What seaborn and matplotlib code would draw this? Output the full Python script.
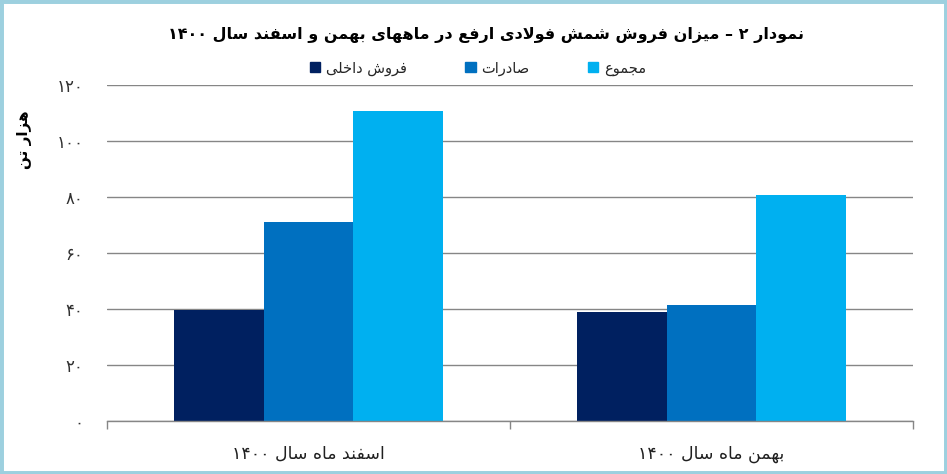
import re
import matplotlib
matplotlib.use("Agg")
import matplotlib.pyplot as plt
import seaborn as sns
import pandas as pd
from matplotlib.patches import Patch, Rectangle

months = ["اسفند ماه سال ۱۴۰۰", "بهمن ماه سال ۱۴۰۰"]
series = ["فروش داخلی", "صادرات", "مجموع"]
domestic = [39.5, 39.1]
exports = [71.2, 41.5]
total = [110.8, 80.8]
yticks = [0, 20, 40, 60, 80, 100, 120]
title = "نمودار ۲ – میزان فروش شمش فولادی ارفع در ماههای بهمن و اسفند سال ۱۴۰۰"
ylabel = "هزار تن"
colors = ["#002060", "#0070C0", "#00B0F0"]

# matplotlib has no arabic joining / rtl, so shape by hand
# letter: (isolated, final, initial, medial)
FORMS = {
    "ا": (0xFE8D, 0xFE8E, None, None),
    "ب": (0xFE8F, 0xFE90, 0xFE91, 0xFE92),
    "ت": (0xFE95, 0xFE96, 0xFE97, 0xFE98),
    "ج": (0xFE9D, 0xFE9E, 0xFE9F, 0xFEA0),
    "خ": (0xFEA5, 0xFEA6, 0xFEA7, 0xFEA8),
    "د": (0xFEA9, 0xFEAA, None, None),
    "ر": (0xFEAD, 0xFEAE, None, None),
    "ز": (0xFEAF, 0xFEB0, None, None),
    "س": (0xFEB1, 0xFEB2, 0xFEB3, 0xFEB4),
    "ش": (0xFEB5, 0xFEB6, 0xFEB7, 0xFEB8),
    "ص": (0xFEB9, 0xFEBA, 0xFEBB, 0xFEBC),
    "ع": (0xFEC9, 0xFECA, 0xFECB, 0xFECC),
    "ف": (0xFED1, 0xFED2, 0xFED3, 0xFED4),
    "ل": (0xFEDD, 0xFEDE, 0xFEDF, 0xFEE0),
    "م": (0xFEE1, 0xFEE2, 0xFEE3, 0xFEE4),
    "ن": (0xFEE5, 0xFEE6, 0xFEE7, 0xFEE8),
    "ه": (0xFEE9, 0xFEEA, 0xFEEB, 0xFEEC),
    "و": (0xFEED, 0xFEEE, None, None),
    "ی": (0xFBFC, 0xFBFD, 0xFBFE, 0xFBFF),
}


def joins_next(c):
    f = FORMS.get(c)
    return f is not None and f[2] is not None


def fa(text):
    chars = list(text)
    out = []
    i = 0
    while i < len(chars):
        c = chars[i]
        if c not in FORMS:
            out.append(c)
            i += 1
            continue
        join_prev = i > 0 and joins_next(chars[i - 1])
        if c == "ل" and i + 1 < len(chars) and chars[i + 1] == "ا":
            out.append(chr(0xFEFC if join_prev else 0xFEFB))
            i += 2
            continue
        nxt = chars[i + 1] if i + 1 < len(chars) else None
        join_nxt = joins_next(c) and nxt in FORMS
        iso, fin, ini, med = FORMS[c]
        if join_prev and join_nxt:
            g = med
        elif join_prev:
            g = fin
        elif join_nxt:
            g = ini
        else:
            g = iso
        out.append(chr(g))
        i += 1
    vis = "".join(out)[::-1]
    return re.sub(r"[0-9۰-۹]+", lambda m: m.group(0)[::-1], vis)


digits = str.maketrans("0123456789", "۰۱۲۳۴۵۶۷۸۹")

df = pd.DataFrame({
    "month": [fa(m) for m in months] * 3,
    "series": [fa(s) for s in series for _ in months],
    "value": domestic + exports + total,
})

sns.set_theme(style="white")
plt.rcParams["font.family"] = ["DejaVu Sans"]

W, H = 947, 474
fig = plt.figure(figsize=(W / 100, H / 100), dpi=100)
ax = fig.add_axes([107 / W, 1 - 421 / H, 806 / W, 336 / H])

sns.barplot(data=df, x="month", y="value", hue="series",
            order=[fa(m) for m in months], hue_order=[fa(s) for s in series],
            palette=colors, saturation=1, width=0.667, linewidth=0,
            legend=False, ax=ax)

ax.set_ylim(0, 120)
ax.set_xlim(-0.5, 1.5)
ax.set_yticks(yticks)
ax.set_yticklabels([str(v).translate(digits) for v in yticks])
ax.yaxis.grid(True, color="#868686", lw=1)
ax.set_axisbelow(True)
for s in ["left", "top", "right"]:
    ax.spines[s].set_visible(False)
ax.spines["bottom"].set_color("#868686")
ax.spines["bottom"].set_linewidth(1)
ax.set_xlabel("")
ax.set_ylabel("")
ax.tick_params(axis="y", length=0, pad=17, labelsize=12, labelcolor="#303030")
ax.tick_params(axis="x", which="major", length=0, pad=17, labelsize=12.5, labelcolor="#202020")
ax.set_xticks([-0.5, 0.5, 1.5], minor=True)
ax.tick_params(axis="x", which="minor", bottom=True, length=6, width=1,
               color="#868686", direction="out")

fig.text(486 / W, 1 - 35 / H, fa(title), ha="center", va="center",
         fontsize=11.5, fontweight="bold", color="black")
fig.text(25 / W, 1 - 140 / H, fa(ylabel), ha="center", va="center",
         rotation=90, fontsize=11, fontweight="bold", color="black")

handles = [Patch(color=c) for c in colors]
fig.legend(handles, [fa(s) for s in series], loc="center",
           bbox_to_anchor=(478 / W, 1 - 68 / H), ncol=3, frameon=False,
           fontsize=10.5, handlelength=0.7, handleheight=0.7,
           handletextpad=0.4, columnspacing=4)

fig.add_artist(Rectangle((0, 0), 1, 1, transform=fig.transFigure, fill=False,
                         ec="#9DD0DF", lw=5))

fig.savefig("out.png", dpi=100)
